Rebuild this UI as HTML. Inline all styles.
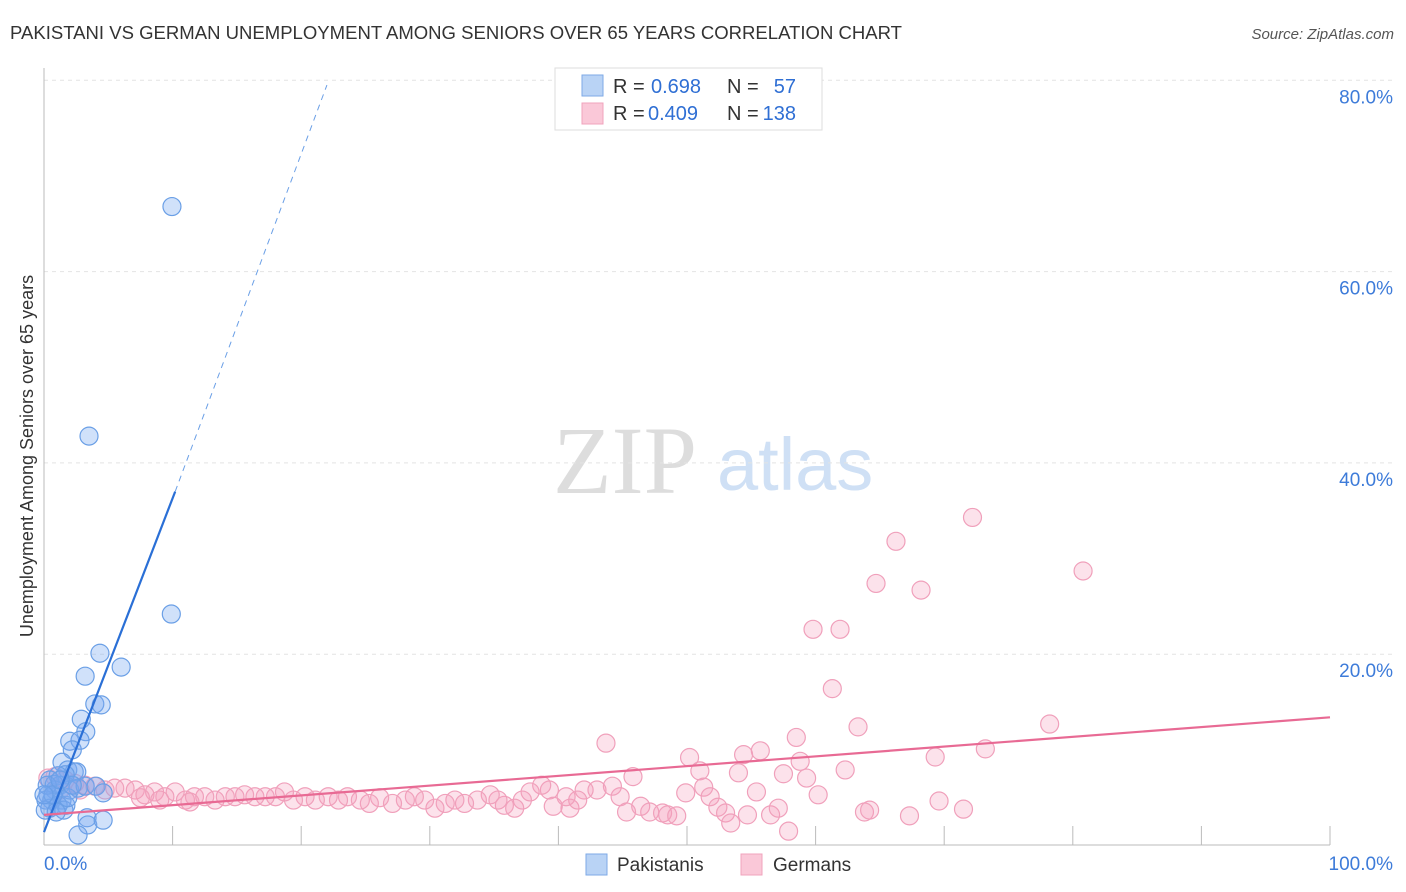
<!DOCTYPE html>
<html><head><meta charset="utf-8"><style>
body{margin:0;background:#fff;font-family:"Liberation Sans",sans-serif;}
svg{display:block}
</style></head><body>
<svg id="chart" width="1406" height="892">
<text x="10" y="39" font-size="18.5" fill="#333" textLength="892" lengthAdjust="spacingAndGlyphs">PAKISTANI VS GERMAN UNEMPLOYMENT AMONG SENIORS OVER 65 YEARS CORRELATION CHART</text>
<text x="1394" y="39" font-size="15" fill="#555" font-style="italic" text-anchor="end">Source: ZipAtlas.com</text>
<g>
<text x="553" y="493" font-family="Liberation Serif,serif" font-size="96" fill="#ddd">ZIP</text>
<text x="717" y="490" font-size="74" fill="#cfe0f5">atlas</text>
</g>
<g id="grid"></g>
<g id="axes"></g>
<g id="marks"></g>
<g id="legend">
<rect x="555" y="68" width="267" height="62" fill="#fff" stroke="#ddd"/>
<rect x="582" y="75" width="21" height="21" fill="#b9d3f5" stroke="#7eaae6"/>
<rect x="582" y="103" width="21" height="21" fill="#fac8d8" stroke="#f0a3bc"/>
<text x="613" y="93" font-size="20" fill="#333">R =</text>
<text x="651" y="93" font-size="20" fill="#2f6fd4">0.698</text>
<text x="727" y="93" font-size="20" fill="#333">N =</text>
<text x="796" y="93" font-size="20" fill="#2f6fd4" text-anchor="end">57</text>
<text x="613" y="120" font-size="20" fill="#333">R =</text>
<text x="648" y="120" font-size="20" fill="#2f6fd4">0.409</text>
<text x="727" y="120" font-size="20" fill="#333">N =</text>
<text x="796" y="120" font-size="20" fill="#2f6fd4" text-anchor="end">138</text>
</g>
<g>
<rect x="586" y="854" width="21" height="21" fill="#b9d3f5" stroke="#7eaae6"/>
<text x="617" y="871" font-size="19" fill="#333">Pakistanis</text>
<rect x="741" y="854" width="21" height="21" fill="#fac8d8" stroke="#f0a3bc"/>
<text x="773" y="871" font-size="19" fill="#333">Germans</text>
</g>
<text transform="translate(33,456) rotate(-90)" font-size="18" fill="#333" text-anchor="middle">Unemployment Among Seniors over 65 years</text>
</svg>
<script>
const yTicks=[20,40,60,80];
const xTickLabels=["0.0%","100.0%"];
const pakX=[9.95,3.5,9.9,4.35,6.0,3.2,3.95,4.45,2.9,3.25,2.0,2.8,2.2,1.4,1.85,2.35,2.55,1.65,1.1,0.45,1.25,0.85,0.3,0.6,1.4,1.7,0.15,0.45,1.1,1.55,2.0,2.65,3.2,4.05,4.6,3.35,3.4,4.6,2.65,0.8,1.85,2.2,0.1,0.95,0.25,0.7,0,1.25];
const pakY=[66.8,42.8,24.2,20.1,18.65,17.7,14.8,14.7,13.2,11.9,10.9,11.0,10.0,8.7,7.9,7.7,7.7,7.4,7.3,6.85,6.3,5.8,5.3,4.75,4.75,4.2,4.75,3.9,4.2,3.7,5.8,6.0,6.2,6.2,5.5,2.9,2.15,2.65,1.1,6.4,5.0,6.3,3.7,3.5,6.3,5.3,5.3,6.85];
const gerX=[72.2,66.25,80.8,64.7,68.2,59.8,61.9,61.3,63.3,78.2,58.5,43.7,73.2,55.7,54.4,50.2,58.8,69.3,62.3,51.0,54.0,57.5,45.8,59.3,51.3,55.4,49.9,60.2,51.8,52.4,69.6,71.5,53.0,54.7,56.5,57.1,53.4,57.9,63.8,64.2,67.3,44.8,45.3,46.4,47.1,48.1,48.5,49.2,44.2,43.0,42.0,39.3,38.7,37.8,39.6,40.9,41.5,40.6,37.2,36.6,35.8,35.3,34.7,33.7,32.7,31.95,31.2,30.4,29.6,28.8,28.1,27.1,26.1,25.3,24.6,23.6,22.9,22.1,21.1,20.3,19.4,18.7,18.0,17.2,16.4,15.6,14.85,14.1,13.3,12.5,11.7,11.0,10.2,9.4,8.6,7.85,7.1,6.3,5.5,4.75,3.95,3.2,2.4,1.65,0.85,0.3,1.25,2.8,7.5,9.0,11.35];
const gerY=[34.3,31.8,28.7,27.4,26.7,22.6,22.6,16.4,12.4,12.7,11.3,10.7,10.1,9.9,9.5,9.2,8.8,9.25,7.9,7.8,7.6,7.5,7.2,7.05,6.1,5.6,5.5,5.3,5.1,4.0,4.65,3.8,3.4,3.2,3.2,3.9,2.35,1.5,3.5,3.7,3.1,5.1,3.5,4.1,3.5,3.4,3.2,3.1,6.2,5.8,5.8,5.8,6.3,5.6,4.1,3.9,4.75,5.1,4.75,3.9,4.2,4.75,5.3,4.75,4.4,4.75,4.4,3.9,4.75,5.1,4.75,4.4,5.0,4.4,4.75,5.1,4.75,5.1,4.75,5.1,4.75,5.6,5.1,5.1,5.1,5.3,5.1,5.1,4.75,5.1,5.1,4.75,5.6,5.1,5.6,5.3,5.8,6.0,6.0,5.8,6.2,6.3,6.5,6.85,7.2,7.05,5.8,5.8,5.0,4.75,4.55];
const pakLine=[[0,1.4],[10.2,37.0]];
const pakDash=[[10.2,37.0],[22.0,79.5]];
const gerLine=[[0,3.2],[100,13.4]];
const NS="http://www.w3.org/2000/svg";
const X=v=>44+v*12.86, Y=v=>845.5-v*9.565;
function mk(t,a,p){const e=document.createElementNS(NS,t);for(const k in a)e.setAttribute(k,a[k]);p.appendChild(e);return e;}
const grid=document.getElementById('grid'),axes=document.getElementById('axes'),marks=document.getElementById('marks');
yTicks.forEach(t=>{const l=mk('line',{x1:44,x2:1394,y1:Y(t),y2:Y(t),stroke:'#e4e4e4','stroke-dasharray':'4,4'},grid);


const tx=mk('text',{x:1393,y:Y(t)+23,'font-size':19,fill:'#3d7bd9','text-anchor':'end'},axes);tx.textContent=t.toFixed(1)+'%';

});
mk('line',{x1:44,x2:44,y1:68,y2:845,stroke:'#bbb'},axes);
mk('line',{x1:44,x2:1330,y1:845,y2:845,stroke:'#bbb'},axes);
for(let i=1;i<=10;i++){const t=mk('line',{x1:X(i*10),x2:X(i*10),y1:826,y2:845,stroke:'#bbb'},axes);

}
const xl0=mk('text',{x:44,y:870,'font-size':19,fill:'#3d7bd9'},axes);xl0.textContent=xTickLabels[0];


const xl1=mk('text',{x:1393,y:870,'font-size':19,fill:'#3d7bd9','text-anchor':'end'},axes);xl1.textContent=xTickLabels[1];


gerX.forEach((v,i)=>{const c=mk('circle',{cx:X(v),cy:Y(gerY[i]),r:9,fill:'rgba(245,160,190,0.3)',stroke:'#f0a0bb','stroke-width':1.2},marks);

});
pakX.forEach((v,i)=>{const c=mk('circle',{cx:X(v),cy:Y(pakY[i]),r:9,fill:'rgba(120,170,240,0.35)',stroke:'#6a9fe6','stroke-width':1.2},marks);

});
const l1=mk('line',{x1:X(pakLine[0][0]),y1:Y(pakLine[0][1]),x2:X(pakLine[1][0]),y2:Y(pakLine[1][1]),stroke:'#2a6fd6','stroke-width':2.2},marks);


const l2=mk('line',{x1:X(pakDash[0][0]),y1:Y(pakDash[0][1]),x2:X(pakDash[1][0]),y2:Y(pakDash[1][1]),stroke:'#6a9fe6','stroke-width':1,'stroke-dasharray':'6,5'},marks);


const l3=mk('line',{x1:X(gerLine[0][0]),y1:Y(gerLine[0][1]),x2:X(gerLine[1][0]),y2:Y(gerLine[1][1]),stroke:'#e86a94','stroke-width':2.2},marks);


</script>
</body></html>
